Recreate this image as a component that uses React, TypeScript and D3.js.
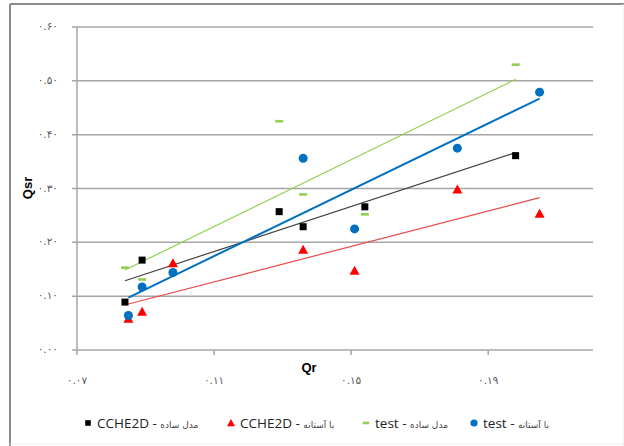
import React from "react";
import * as d3 from "d3";

// Qr values (x) for the two model variants
const qrSimple = [0.084, 0.089, 0.129, 0.136, 0.154, 0.198];
const qrThreshold = [0.085, 0.089, 0.098, 0.136, 0.151, 0.181, 0.205];

// Qsr values (y)
const cche2dSimple = [0.089, 0.167, 0.257, 0.229, 0.266, 0.361];
const testSimple = [0.153, 0.131, 0.425, 0.289, 0.252, 0.53];
const cche2dThreshold = [0.058, 0.071, 0.161, 0.186, 0.147, 0.298, 0.253];
const testThreshold = [0.064, 0.117, 0.144, 0.356, 0.225, 0.375, 0.479];

const yTicks = [0, 0.1, 0.2, 0.3, 0.4, 0.5, 0.6];
const xTicks = [0.07, 0.11, 0.15, 0.19];

const series = [
  { name: "CCHE2D", tag: "مدل ساده", xs: qrSimple, ys: cche2dSimple, marker: "square", color: "#000000", line: "#404040", lw: 1.2 },
  { name: "CCHE2D", tag: "با آستانه", xs: qrThreshold, ys: cche2dThreshold, marker: "triangle", color: "#ff0000", line: "#e84a4a", lw: 1.2 },
  { name: "test", tag: "مدل ساده", xs: qrSimple, ys: testSimple, marker: "dash", color: "#92d050", line: "#92d050", lw: 1.2 },
  { name: "test", tag: "با آستانه", xs: qrThreshold, ys: testThreshold, marker: "circle", color: "#0070c0", line: "#0070c0", lw: 2 },
];

const persianDigits = (s: string) => s.replace(/[0-9]/g, (d) => "۰۱۲۳۴۵۶۷۸۹"[+d]);

// least-squares trend line over the series' x range
const trend = (xs: number[], ys: number[]) => {
  const mx = d3.mean(xs)!;
  const my = d3.mean(ys)!;
  const sxy = d3.sum(xs, (x, i) => (x - mx) * (ys[i] - my));
  const sxx = d3.sum(xs, (x) => (x - mx) * (x - mx));
  const b = sxy / sxx;
  const [x0, x1] = d3.extent(xs) as [number, number];
  return [
    [x0, my + b * (x0 - mx)],
    [x1, my + b * (x1 - mx)],
  ];
};

const Marker = ({ type, x, y, color, k = 1 }: { type: string; x: number; y: number; color: string; k?: number }) => {
  if (type === "square") return <rect x={x - 3.5 * k} y={y - 3.5 * k} width={7 * k} height={7 * k} fill={color} />;
  if (type === "triangle")
    return <path d={`M${x},${y - 5 * k} L${x + 5 * k},${y + 4 * k} L${x - 5 * k},${y + 4 * k} Z`} fill={color} />;
  if (type === "dash") return <rect x={x - 4 * k} y={y - 1.3} width={8 * k} height={2.6} fill={color} />;
  return <circle cx={x} cy={y} r={4.5 * k} fill={color} />;
};

export default function App() {
  const width = 624;
  const height = 446;

  const x = d3.scaleLinear().domain([0.07, 0.22]).range([77, 591]);
  const y = d3.scaleLinear().domain([0, 0.6]).range([350, 27]);
  const line = d3
    .line<number[]>()
    .x((d) => x(d[0]))
    .y((d) => y(d[1]));

  const gridColor = "#a6a6a6";
  const legendX = [88, 231, 366, 474];

  return (
    <svg
      width={width}
      height={height}
      style={{ position: "absolute", left: 0, top: 0, background: "#fff" }}
      fontFamily="'DejaVu Sans', sans-serif"
    >
      {/* frame */}
      <line x1={10} y1={4} x2={10} y2={446} stroke="#8c8c8c" strokeWidth={2} />
      <line x1={10} y1={4} x2={624} y2={4} stroke="#8c8c8c" strokeWidth={2} />
      <line x1={10} y1={444} x2={624} y2={444} stroke="#f0f0f0" strokeWidth={1} />
      <line x1={623} y1={4} x2={623} y2={446} stroke="#eeeeee" strokeWidth={1} />

      {/* gridlines + y labels */}
      {yTicks.map((t) => (
        <g key={t}>
          <line x1={72} x2={593} y1={y(t)} y2={y(t)} stroke={gridColor} strokeWidth={1.5} />
          <text x={58} y={y(t)} dy="0.3em" textAnchor="end" fontSize={10.5} fill="#595959">
            {persianDigits(t.toFixed(2))}
          </text>
        </g>
      ))}
      {/* y axis */}
      <line x1={77} x2={77} y1={y(0.6)} y2={y(0) + 1} stroke={gridColor} strokeWidth={1.5} />
      {/* x ticks */}
      {xTicks.map((t) => (
        <g key={t}>
          <line x1={x(t)} x2={x(t)} y1={y(0)} y2={y(0) + 5} stroke={gridColor} strokeWidth={1.5} />
          <text x={x(t)} y={384} textAnchor="middle" fontSize={10.5} fill="#595959">
            {persianDigits(t.toFixed(2))}
          </text>
        </g>
      ))}

      {/* axis titles */}
      <text x={309} y={372} textAnchor="middle" fontFamily="'Liberation Sans', Arial, sans-serif" fontWeight="bold" fontSize={13}>
        Qr
      </text>
      <text
        transform="translate(32,188) rotate(-90)"
        textAnchor="middle"
        fontFamily="'Liberation Sans', Arial, sans-serif"
        fontWeight="bold"
        fontSize={13}
      >
        Qsr
      </text>

      {/* trend lines */}
      {series.map((s, i) => (
        <path key={"t" + i} d={line(trend(s.xs, s.ys))!} fill="none" stroke={s.line} strokeWidth={s.lw} />
      ))}

      {/* markers */}
      {series.map((s, i) =>
        s.xs.map((v, j) => <Marker key={i + "-" + j} type={s.marker} x={x(v)} y={y(s.ys[j])} color={s.color} />)
      )}

      {/* legend */}
      {series.map((s, i) => (
        <g key={"l" + i}>
          <Marker type={s.marker} x={legendX[i]} y={423} color={s.color} k={0.8} />
          <text x={legendX[i] + 9} y={423} dy="0.36em" fontSize={13.5} fontFamily="'Open Sans', sans-serif" fill="#222">
            {s.name + " - "}
            <tspan fontFamily="'DejaVu Sans', sans-serif" fontSize={9} fill="#444">
              {s.tag}
            </tspan>
          </text>
        </g>
      ))}
    </svg>
  );
}
